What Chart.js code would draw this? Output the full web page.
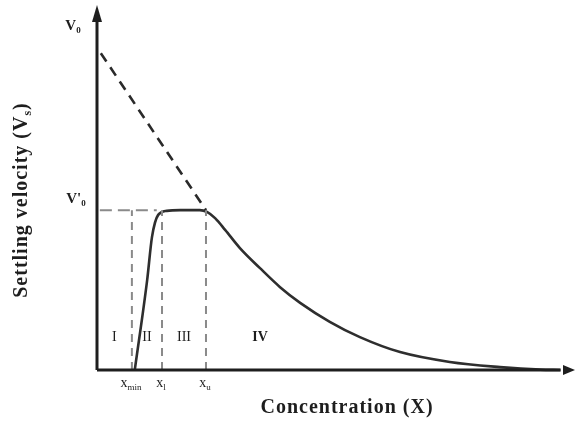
<!DOCTYPE html>
<html>
<head>
<meta charset="utf-8">
<script src="https://cdn.jsdelivr.net/npm/chart.js@4.4.1/dist/chart.umd.min.js"></script>
<style>
  html, body { margin: 0; padding: 0; background: #fff; }
  #wrap { width: 577px; height: 422px; position: relative; }
</style>
</head>
<body>
<div id="wrap"><canvas id="settling"></canvas></div>
<script>
/* ==========================
   DATA
========================== */
// settling velocity curve vs concentration (arbitrary units, 0..100)
const curveX = [7.9, 10.5, 11.5, 12.8, 14.6, 17.4, 21.5, 23.0, 24.7, 26.8, 29.9, 34.1, 38.3, 42.5, 48.7, 55.0, 63.4, 73.8, 84.3, 92.7, 96.9];
const curveY = [0, 24.7, 36.4, 42.5, 43.6, 43.8, 43.8, 43.3, 41.6, 38.4, 33.4, 27.9, 22.7, 18.4, 13.2, 9.0, 4.9, 2.2, 0.8, 0.1, 0];

const V0 = 86.8;      // free settling velocity
const V0p = 43.8;     // hindered plateau velocity V'0

// boundary concentrations: x_min, x_l, x_u
const markX = [7.3, 13.6, 22.8];
const markNames = ["min", "l", "u"];
const regionNames = ["I", "II", "III", "IV"];

/* ==========================
   HELPERS
========================== */
const SERIF = '"Liberation Serif", "DejaVu Serif", serif';

function pts(xs, ys){ return xs.map((x, i) => ({x, y: ys[i]})); }

// text with a subscript, anchored at its centre
function subText(ctx, base, sub, cx, cy, size, subSize, bold, suffix){
    const w = bold ? "bold " : "";
    const f1 = `${w}${size}px ${SERIF}`, f2 = `${w}${subSize}px ${SERIF}`;
    ctx.font = f1; const wb = ctx.measureText(base).width;
    ctx.font = f2; const ws = ctx.measureText(sub).width;
    ctx.font = f1; const wx = suffix ? ctx.measureText(suffix).width : 0;
    let x = cx - (wb + ws + wx) / 2;
    ctx.textAlign = "left"; ctx.textBaseline = "middle";
    ctx.font = f1; ctx.fillText(base, x, cy); x += wb;
    ctx.font = f2; ctx.fillText(sub, x, cy + size * 0.3); x += ws;
    if(suffix){ ctx.font = f1; ctx.fillText(suffix, x, cy); }
}

/* ==========================
   LABELS + ARROWS PLUGIN
========================== */
const labelsPlugin = {
    id: "labels",
    afterDatasetsDraw(chart){
        const {ctx, scales:{x, y}} = chart;
        const ox = x.getPixelForValue(0), oy = y.getPixelForValue(0);
        ctx.save();
        ctx.fillStyle = "#1e1e1e";

        // arrow heads
        const top = y.getPixelForValue(100), right = x.getPixelForValue(100);
        ctx.beginPath();
        ctx.moveTo(ox, top); ctx.lineTo(ox - 5, top + 17); ctx.lineTo(ox + 5, top + 17);
        ctx.closePath(); ctx.fill();
        ctx.beginPath();
        ctx.moveTo(right, oy); ctx.lineTo(right - 12, oy - 5); ctx.lineTo(right - 12, oy + 5);
        ctx.closePath(); ctx.fill();

        // velocity labels
        subText(ctx, "V", "0", 73, y.getPixelForValue(V0) - 27, 15, 9, true);
        subText(ctx, "V'", "0", 76, y.getPixelForValue(V0p) - 11, 15, 9, true);

        // concentration marks
        markX.forEach((m, i) => {
            subText(ctx, "x", markNames[i], x.getPixelForValue(m) - 1, oy + 13, 14, 9, false);
        });

        // region numerals
        const bounds = [0, ...markX];
        const ry = y.getPixelForValue(9);
        ctx.font = `14px ${SERIF}`;
        ctx.textAlign = "center"; ctx.textBaseline = "middle";
        regionNames.forEach((r, i) => {
            const rx = i < 3 ? (bounds[i] + bounds[i + 1]) / 2 : markX[2] + 11.3;
            if(i === 3) ctx.font = `bold 14px ${SERIF}`;
            ctx.fillText(r, x.getPixelForValue(rx), ry);
        });

        // axis titles
        ctx.letterSpacing = "1px";
        ctx.font = `bold 20px ${SERIF}`;
        ctx.fillText("Concentration (X)", 347, 408);

        ctx.translate(22, 200);
        ctx.rotate(-Math.PI / 2);
        subText(ctx, "Settling velocity (V", "s", 0, 0, 20, 12, true, ")");
        ctx.restore();
    }
};

/* ==========================
   CHART
========================== */
const dashGrey = "#8a8a8a";
const vLines = markX.map(m => ({
    data: [{x: m, y: 0}, {x: m, y: V0p}],
    borderColor: dashGrey, borderWidth: 2, borderDash: [8, 6]
}));

new Chart(document.getElementById("settling"), {
    type: "scatter",
    data: {
        datasets: [
            // axes
            { data: [{x: 0, y: 0}, {x: 0, y: 96}], borderColor: "#1e1e1e", borderWidth: 3 },
            { data: [{x: 0, y: 0}, {x: 97, y: 0}], borderColor: "#1e1e1e", borderWidth: 3 },
            // V'0 guide
            { data: [{x: 0.6, y: V0p}, {x: 12.5, y: V0p}], borderColor: dashGrey, borderWidth: 2, borderDash: [12, 6] },
            ...vLines,
            // ideal (free) settling line
            { data: [{x: 0.8, y: V0}, {x: markX[2], y: V0p}], borderColor: "#2a2a2a", borderWidth: 2.6, borderDash: [10, 7] },
            // measured curve
            { data: pts(curveX, curveY), borderColor: "#2e2e2e", borderWidth: 2.6, cubicInterpolationMode: "monotone" }
        ].map(d => Object.assign({showLine: true, pointRadius: 0, clip: false, fill: false}, d))
    },
    options: {
        responsive: true,
        maintainAspectRatio: false,
        animation: false,
        layout: { padding: {left: 97, right: 2, top: 5, bottom: 52} },
        plugins: { legend: {display: false}, tooltip: {enabled: false} },
        scales: {
            x: { type: "linear", min: 0, max: 100, display: false },
            y: { type: "linear", min: 0, max: 100, display: false }
        }
    },
    plugins: [labelsPlugin]
});
</script>
</body>
</html>
